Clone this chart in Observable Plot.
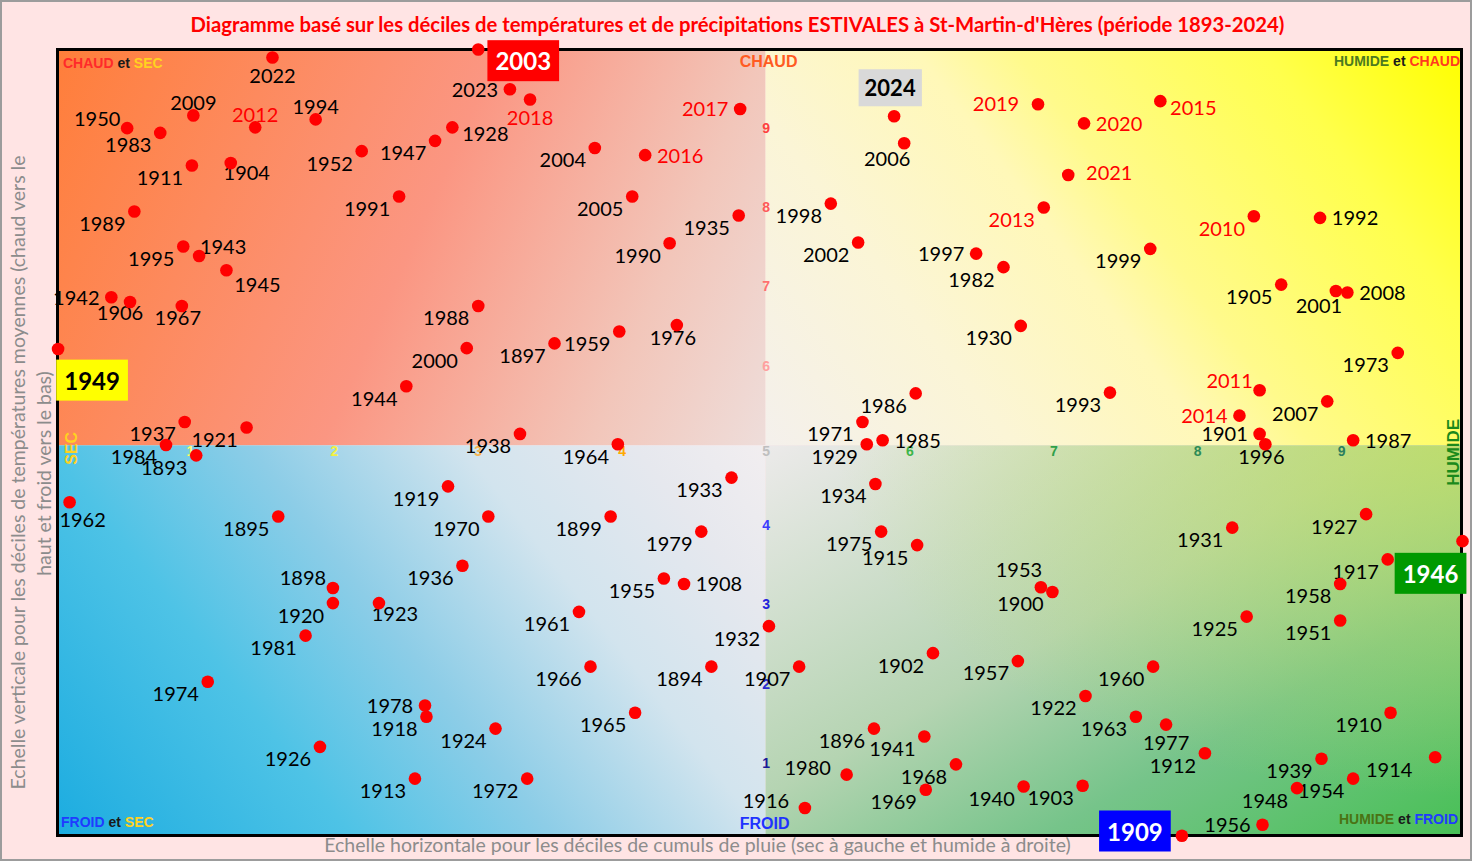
<!DOCTYPE html>
<html>
<head>
<meta charset="utf-8">
<script src="https://cdn.jsdelivr.net/npm/d3@7"></script>
<script src="https://cdn.jsdelivr.net/npm/@observablehq/plot@0.6"></script>
<style>
  html, body { margin: 0; padding: 0; background: #FFE4E4; }
  #wrap { position: relative; width: 1472px; height: 861px; overflow: hidden; }
  #wrap svg.plot-main { display: block; }
  #border { position: absolute; left: 0; top: 0; width: 1472px; height: 861px; box-sizing: border-box; border: 2px solid #9C9C9C; pointer-events: none; }
</style>
</head>
<body>
<svg width="0" height="0" style="position:absolute">
  <defs>
    <linearGradient id="gHotDry" x1="0" y1="0" x2="1.176" y2="0.294">
      <stop offset="0" stop-color="#FF7E3A"/>
      <stop offset="0.5" stop-color="#FB9682"/>
      <stop offset="0.8" stop-color="#F2C6BA"/>
      <stop offset="1" stop-color="#EEDDDA"/>
    </linearGradient>
    <linearGradient id="gHotWet" x1="0" y1="1" x2="1.207" y2="0.483">
      <stop offset="0" stop-color="#F4F0EC"/>
      <stop offset="0.25" stop-color="#FBF5D6"/>
      <stop offset="0.45" stop-color="#FFF8B8"/>
      <stop offset="0.55" stop-color="#FFFA8C"/>
      <stop offset="0.8" stop-color="#FFFF4C"/>
      <stop offset="1" stop-color="#FFFF00"/>
    </linearGradient>
    <linearGradient id="gColdDry" x1="0" y1="1" x2="1.207" y2="0.483">
      <stop offset="0" stop-color="#1CACE0"/>
      <stop offset="0.29" stop-color="#4EC3E6"/>
      <stop offset="0.49" stop-color="#8DCDE7"/>
      <stop offset="0.7" stop-color="#D2E4EE"/>
      <stop offset="0.87" stop-color="#E6E8EE"/>
      <stop offset="1" stop-color="#F2EEF0"/>
    </linearGradient>
    <linearGradient id="gColdWet" x1="0" y1="0" x2="1" y2="1">
      <stop offset="0" stop-color="#ECEAEA"/>
      <stop offset="0.45" stop-color="#B5D4B2"/>
      <stop offset="0.7" stop-color="#76C48A"/>
      <stop offset="1" stop-color="#48C055"/>
    </linearGradient>
    <radialGradient id="gColdWetTint" cx="1" cy="0" r="0.9">
      <stop offset="0" stop-color="#C4E05A" stop-opacity="0.75"/>
      <stop offset="1" stop-color="#C4E05A" stop-opacity="0"/>
    </radialGradient>
  </defs>
</svg>
<div id="wrap"><div id="border"></div></div>
<script>
// ---------------- DATA ----------------
const years = [
  1893,1894,1895,1896,1897,1898,1899,1900,1901,1902,
  1903,1904,1905,1906,1907,1908,1909,1910,1911,1912,
  1913,1914,1915,1916,1917,1918,1919,1920,1921,1922,
  1923,1924,1925,1926,1927,1928,1929,1930,1931,1932,
  1933,1934,1935,1936,1937,1938,1939,1940,1941,1942,
  1943,1944,1945,1946,1947,1948,1949,1950,1951,1952,
  1953,1954,1955,1956,1957,1958,1959,1960,1961,1962,
  1963,1964,1965,1966,1967,1968,1969,1970,1971,1972,
  1973,1974,1975,1976,1977,1978,1979,1980,1981,1982,
  1983,1984,1985,1986,1987,1988,1989,1990,1991,1992,
  1993,1994,1995,1996,1997,1998,1999,2000,2001,2002,
  2003,2004,2005,2006,2007,2008,2009,2010,2011,2012,
  2013,2014,2015,2016,2017,2018,2019,2020,2021,2022,
  2023,2024
];
// rainfall decile (horizontal)
const rainDecile = [
  1.04,4.62,1.61,5.75,3.53,1.99,3.92,6.99,8.43,6.16,
  7.20,1.28,8.58,0.58,5.23,4.43,7.89,9.34,1.01,8.05,
  2.56,9.65,6.05,5.27,9.32,2.64,2.79,1.99,1.39,7.22,
  2.31,3.12,8.34,1.90,9.17,2.82,5.70,6.77,8.24,5.02,
  4.76,5.76,4.81,2.89,0.96,3.29,8.86,6.79,6.10,0.45,
  1.06,2.50,1.25,9.84,2.70,8.69,0.08,0.56,8.99,2.19,
  6.91,9.08,4.29,8.45,6.75,8.99,3.98,7.69,3.70,0.16,
  7.57,3.97,4.09,3.78,0.94,6.32,6.11,3.07,5.67,3.34,
  9.39,1.12,5.80,4.38,7.78,2.63,4.55,5.56,1.80,6.65,
  0.79,0.83,5.81,6.04,9.08,3.00,0.61,4.33,2.45,8.85,
  7.39,1.87,0.95,8.47,6.46,5.45,7.67,2.92,8.96,5.64,
  3.00,3.81,4.07,5.96,8.90,9.04,1.02,8.39,8.43,1.45,
  6.93,8.29,7.74,4.16,4.82,3.36,6.89,7.21,7.10,1.57,
  3.22,5.89
];
// mean temperature decile (vertical)
const tempDecile = [
  4.88,2.22,4.11,1.44,6.29,3.21,4.11,3.16,5.15,2.39,
  0.72,8.56,7.03,6.81,2.22,3.26,0.09,1.64,8.53,1.13,
  0.81,1.08,3.75,0.44,3.57,1.59,4.49,3.02,5.23,1.85,
  3.02,1.44,2.85,1.21,4.14,9.01,5.02,6.51,3.97,2.73,
  4.60,4.52,7.90,3.49,5.30,5.15,1.06,0.71,1.34,6.87,
  7.39,5.75,7.21,3.80,8.84,0.69,6.22,9.00,2.80,8.71,
  3.22,0.81,3.33,0.23,2.29,3.26,6.44,2.22,2.91,4.29,
  1.59,5.02,1.64,2.22,6.76,0.99,0.67,4.11,5.30,0.81,
  6.17,2.03,3.92,6.52,1.49,1.73,3.92,0.86,2.61,7.25,
  8.94,5.01,5.07,5.66,5.07,6.76,7.95,7.55,8.14,7.87,
  5.67,9.11,7.51,5.02,7.42,8.05,7.48,6.23,6.95,7.56,
  9.99,8.75,8.14,8.81,5.56,6.93,9.16,7.89,5.70,9.01,
  8.00,5.38,9.34,8.66,9.24,9.36,9.30,9.06,8.41,9.89,
  9.49,9.15
];
// where each year's label sits relative to its point
const labelPlace = [
  "bl","bl","bl","bl","bl","al","bl","bl","l","bl",
  "bl","br","bl","bs","bl","r","H","bl","bl","bl",
  "bl","bl4","bl","al3","bl","bl","bl","bl","bl","bl",
  "br","bl","bl","bl","bl","rb","bl","bl","bl","bl",
  "bl","bl","bl","bl","bl","bl","bl","bl","bl","l",
  "ar","bl","br2","H","bl","bl","H","al","bl","bl",
  "al2","bl","bl","l","bl","bl","bl","bl","bl","br3",
  "bl","bl","bl","bl","b","bl","bl","bl","bl","bl",
  "bl","bl","bl","b","bb","l","bl","al3","bl","bl",
  "bl","bl","r","bl","r","bl","bl","bl","bl","r",
  "bl","a","bl","b","l","bl","bl","bl","bl2","bl",
  "H","bl","bl","bl2","bl","r","a","bl","al","a",
  "bl","l","rb","r","l","bb","l2","r","r2","bb",
  "l","H"
];
const redLabelYears = [2010,2011,2012,2013,2014,2015,2016,2017,2018,2019,2020,2021];
const highlightYears = [2003, 2024, 1949, 1946, 1909];
const decileTicks = [1,2,3,4,5,6,7,8,9];
const tempTicks = [1,2,3,4,6,7,8,9];

const titleText = "Diagramme basé sur les déciles de températures et de précipitations ESTIVALES à St-Martin-d'Hères (période 1893-2024)";
const xLabel = "Echelle horizontale pour les déciles de cumuls de pluie (sec à gauche et humide à droite)";
const yLabel1 = "Echelle verticale pour les déciles de températures moyennes (chaud vers le";
const yLabel2 = "haut et froid vers le bas)";

// ---------------- STYLE / LAYOUT ----------------
const FONT = "Lato, 'Open Sans', sans-serif";
const ARIAL = "'Liberation Sans', Arial, sans-serif";
const xDomain = [0.076, 9.833];
const yDomain = [0.094, 9.99];
const MID = 5;
const labelOffsets = {
  bl: [-32, 13], l: [-35, 1], l2: [-42, 0], r: [35, 1], r2: [41, -1], rb: [33, 7],
  a: [0, -12], al: [-30, -9], al2: [-22, -17], al3: [-39, -6], ar: [24, -8],
  br: [16, 11], br2: [31, 15], br3: [13, 18], b: [-4, 13], bs: [-10, 12], bb: [0, 19],
  bl2: [-17, 16], bl4: [-46, 13]
};
const highlightOffsets = [[45, 13], [-4, -27], [34, 33], [-32, 34], [-47, -3]];
const highlightBox = ["#FF0000", "#D9D9D9", "#FFFF00", "#009900", "#0000FF"];
const highlightInk = ["#FFFFFF", "#000000", "#000000", "#FFFFFF", "#FFFFFF"];
const highlightSize = [24, 22, 24, 24, 24];
const rainTickColors = ["#FFFF70","#F2F040","#F6B450","#FFAA00","#BFBFBF","#3DB54A","#2EA04A","#2E8B57","#2B7F5F"];
const tempTickColors = ["#1A1A9A","#2A2ACF","#2222DD","#3C3CFF","#FFA0A0","#FF7070","#FF5A5A","#FF4040"];

const rows = years.map((year, i) => ({
  year, rain: rainDecile[i], temp: tempDecile[i], place: labelPlace[i],
  color: redLabelYears.includes(year) ? "#FF0000" : "#000000"
}));
const rainTickRows = decileTicks.map((v, i) => ({v, c: rainTickColors[i]}));
const tempTickRows = tempTicks.map((v, i) => ({v, c: tempTickColors[i]}));

const quadrants = [
  {x1: xDomain[0], x2: MID, y1: MID, y2: yDomain[1], fill: "url(#gHotDry)"},
  {x1: MID, x2: xDomain[1], y1: MID, y2: yDomain[1], fill: "url(#gHotWet)"},
  {x1: xDomain[0], x2: MID, y1: yDomain[0], y2: MID, fill: "url(#gColdDry)"},
  {x1: MID, x2: xDomain[1], y1: yDomain[0], y2: MID, fill: "url(#gColdWet)"},
  {x1: MID, x2: xDomain[1], y1: yDomain[0], y2: MID, fill: "url(#gColdWetTint)"}
];

const NS = "http://www.w3.org/2000/svg";
function richText(parts, {x, y, dx = 0, dy = 0, anchor = "start", size = 14, rotate = 0}) {
  return (index, scales) => {
    const px = scales.x(x) + dx, py = scales.y(y) + dy;
    const t = document.createElementNS(NS, "text");
    t.setAttribute("transform", `translate(${px},${py})` + (rotate ? ` rotate(${rotate})` : ""));
    t.setAttribute("text-anchor", anchor);
    t.setAttribute("font-family", ARIAL);
    t.setAttribute("font-size", size);
    t.setAttribute("font-weight", "bold");
    t.setAttribute("style", "white-space: pre");
    for (const [s, c] of parts) {
      const ts = document.createElementNS(NS, "tspan");
      ts.setAttribute("fill", c);
      ts.textContent = s;
      t.appendChild(ts);
    }
    return t;
  };
}

const YEL = "#FFD21F", DARK = "#1A1A1A";
const cornerMarks = [
  richText([["CHAUD", "#FF2A2A"], [" et ", DARK], ["SEC", YEL]], {x: xDomain[0], y: yDomain[1], dx: 6, dy: 19}),
  richText([["CHAUD", "#FF5B22"]], {x: MID, y: yDomain[1], dx: 3, dy: 18, anchor: "middle", size: 16}),
  richText([["HUMIDE", "#4D7A1F"], [" et ", DARK], ["CHAUD", "#FF3B1F"]], {x: xDomain[1], y: yDomain[1], dx: -1, dy: 17, anchor: "end"}),
  richText([["FROID", "#1F3BFF"], [" et ", DARK], ["SEC", YEL]], {x: xDomain[0], y: yDomain[0], dx: 4, dy: -8}),
  richText([["FROID", "#1F33FF"]], {x: MID, y: yDomain[0], dx: -1, dy: -6, anchor: "middle", size: 16}),
  richText([["HUMIDE", "#4A7314"], [" et ", DARK], ["FROID", "#1F3BFF"]], {x: xDomain[1], y: yDomain[0], dx: -3, dy: -11, anchor: "end"}),
  richText([["SEC", YEL]], {x: xDomain[0], y: MID, dx: 20, dy: 3, anchor: "middle", size: 16, rotate: -90}),
  richText([["HUMIDE", "#1B8A1B"]], {x: xDomain[1], y: MID, dx: -2, dy: 7, anchor: "middle", size: 17, rotate: -90})
];

const labelMarks = Object.entries(labelOffsets).map(([code, [dx, dy]]) =>
  Plot.text(rows.filter(d => d.place === code), {
    x: "rain", y: "temp", text: d => String(d.year), dx, dy,
    fill: "color", fontFamily: FONT, fontSize: 20
  })
);

const highlightMarks = highlightYears.map((yr, i) =>
  Plot.text(rows.filter(d => d.year === yr), {
    x: "rain", y: "temp", text: d => String(d.year),
    dx: highlightOffsets[i][0], dy: highlightOffsets[i][1],
    fill: highlightInk[i], fontWeight: "bold", fontSize: highlightSize[i], fontFamily: FONT,
    ariaDescription: "hl-" + yr
  })
);

const svg = Plot.plot({
  width: 1472, height: 861,
  marginLeft: 57, marginRight: 11, marginTop: 49, marginBottom: 26,
  style: {background: "#FFE4E4", overflow: "visible"},
  className: "plot-main",
  x: {domain: xDomain, axis: null},
  y: {domain: yDomain, axis: null},
  marks: [
    ...quadrants.map(q => Plot.rect([q], {x1: "x1", x2: "x2", y1: "y1", y2: "y2", fill: q.fill})),
    Plot.frame({stroke: "#000000", strokeWidth: 3}),
    Plot.text(rainTickRows, {x: "v", y: () => MID, text: d => String(d.v), dy: 6, fill: "c", fontFamily: ARIAL, fontWeight: "bold", fontSize: 14}),
    Plot.text(tempTickRows, {x: () => MID, y: "v", text: d => String(d.v), fill: "c", fontFamily: ARIAL, fontWeight: "bold", fontSize: 14}),
    ...cornerMarks,
    Plot.text([titleText], {frameAnchor: "top", text: d => d, dx: -22, dy: -24, textAnchor: "middle", lineAnchor: "middle", fill: "#FF0000", fontWeight: "bold", fontSize: 20.3, fontFamily: FONT}),
    Plot.text([xLabel], {frameAnchor: "bottom", text: d => d, dx: -62, dy: 10, textAnchor: "middle", lineAnchor: "middle", fill: "#8C8C8C", fontSize: 19.5, fontFamily: FONT}),
    Plot.text([yLabel1], {frameAnchor: "left", text: d => d, rotate: -90, dx: -39, dy: 30, textAnchor: "middle", lineAnchor: "middle", fill: "#8C8C8C", fontSize: 19.5, fontFamily: FONT}),
    Plot.text([yLabel2], {frameAnchor: "left", text: d => d, rotate: -90, dx: -13, dy: 31, textAnchor: "middle", lineAnchor: "middle", fill: "#8C8C8C", fontSize: 19.5, fontFamily: FONT}),
    ...labelMarks,
    ...highlightMarks,
    Plot.dot(rows, {x: "rain", y: "temp", r: 6.3, fill: "#FF0000"})
  ]
});
const wrap = document.getElementById("wrap");
wrap.insertBefore(svg, wrap.firstChild);

// boxes behind the highlighted year labels, sized from the rendered text
highlightYears.forEach((yr, i) => {
  const g = svg.querySelector(`g[aria-description="hl-${yr}"]`);
  if (!g) return;
  const t = g.querySelector("text");
  const b = t.getBBox();
  const padX = highlightSize[i] === 24 ? 8 : 6, padY = highlightSize[i] === 24 ? 6 : 5;
  const r = document.createElementNS(NS, "rect");
  const tr = t.getAttribute("transform");
  if (tr) r.setAttribute("transform", tr);
  r.setAttribute("x", b.x - padX);
  r.setAttribute("y", b.y - padY);
  r.setAttribute("width", b.width + 2 * padX);
  r.setAttribute("height", b.height + 2 * padY);
  r.setAttribute("fill", highlightBox[i]);
  g.insertBefore(r, t);
});
</script>
</body>
</html>
